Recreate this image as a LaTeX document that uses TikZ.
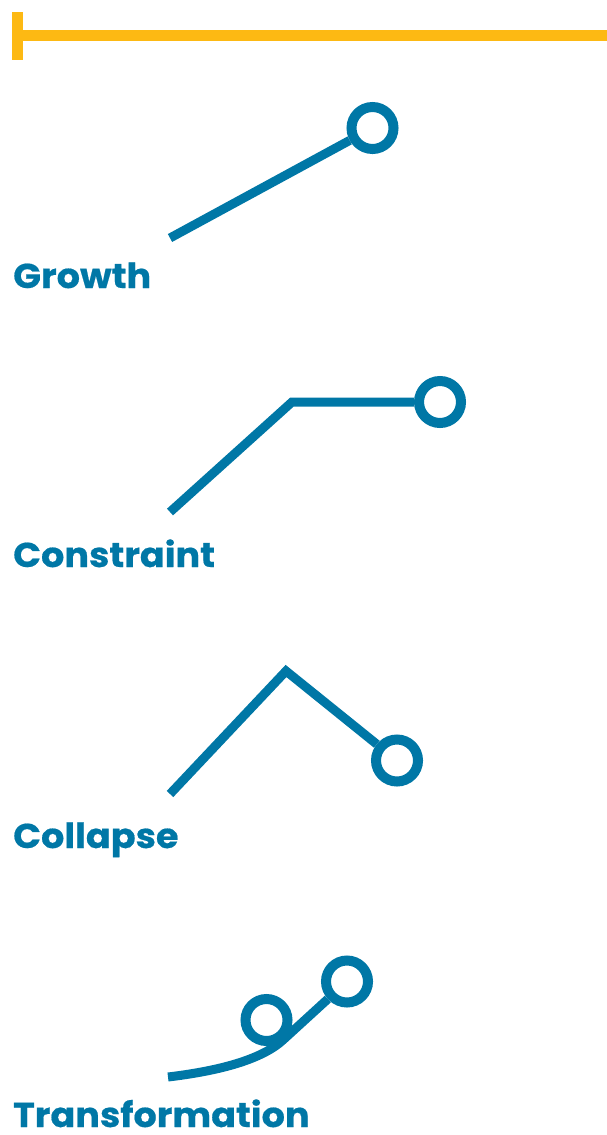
\documentclass[tikz,border=0pt]{standalone}
\usepackage{fontspec}
\setmainfont{Poppins}[BoldFont={Poppins Bold},BoldFeatures={FakeStretch=1.06,FakeBold=0.5}]
\definecolor{tblue}{HTML}{0077A6}
\definecolor{tyellow}{HTML}{FDB913}
\begin{document}
\begin{tikzpicture}[x=1pt,y=-1pt,
  trend/.style={draw=tblue,line width=9pt,line cap=butt,line join=miter},
  endpt/.style={circle,draw=tblue,line width=10pt,minimum size=42pt,inner sep=0pt},
  lbl/.style={anchor=base west,inner sep=0pt,text=tblue,font=\bfseries\fontsize{34.5}{34.5}\selectfont}]
\useasboundingbox (0,0) rectangle (607,1135);
% top bar
\coordinate (barL) at (22,35.5);
\coordinate (barR) at (607,35.5);
\coordinate (tickT) at (17.3,12);
\coordinate (tickB) at (17.3,60);
\draw[tyellow,line width=11pt] (barL) -- (barR);
\draw[tyellow,line width=10.7pt] (tickT) -- (tickB);
% Growth
\coordinate (g0) at (170,238);
\node[endpt] (g1) at (372.5,128) {};
\draw[trend] (g0) -- (g1);
\node[lbl] (tg) at (13,288) {Growth};
% Constraint
\coordinate (c0) at (170,512);
\coordinate (c1) at (292,402);
\node[endpt] (c2) at (440,402) {};
\draw[trend] (c0) -- (c1) -- (c2);
\node[lbl] (tc) at (13,567) {Constraint};
% Collapse
\coordinate (k0) at (170,794);
\coordinate (k1) at (286,671);
\node[endpt] (k2) at (397,760.5) {};
\draw[trend] (k0) -- (k1) -- (k2);
\node[lbl] (tk) at (13,848) {Collapse};
% Transformation
\coordinate (t0) at (168,1077);
\coordinate (t1) at (283,1040);
\node[endpt] (tc1) at (266.5,1020) {};
\node[endpt] (tc2) at (347,981.5) {};
\draw[trend] (t0) .. controls (218,1071) and (261,1060) .. (t1) -- (tc2);
\node[lbl] (tt) at (13,1127) {Transformation};
\end{tikzpicture}
\end{document}
